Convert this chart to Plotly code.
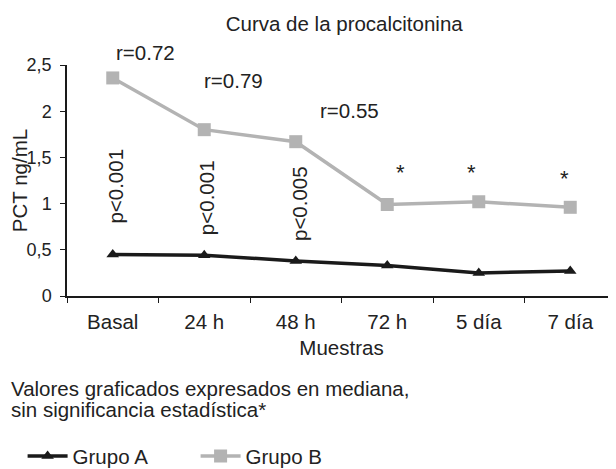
import plotly.graph_objects as go

categories = ["Basal", "24 h", "48 h", "72 h", "5 día", "7 día"]
grupo_a = [0.45, 0.44, 0.38, 0.33, 0.25, 0.27]
grupo_b = [2.36, 1.80, 1.67, 0.99, 1.02, 0.96]

r_labels = ["r=0.72", "r=0.79", "r=0.55"]
r_x = [0.36, 1.32, 2.59]
r_y = [2.63, 2.33, 2.01]

p_labels = ["p<0.001", "p<0.001", "p<0.005"]
p_x = [0.02, 1.02, 2.04]
p_y = [1.19, 1.06, 1.00]

star_x = [3.14, 3.92, 4.94]
star_y = [1.34, 1.34, 1.27]

Y_MAX = 2.5
FONT = "Liberation Sans, Arial, sans-serif"
TXT = "#222222"
FS = 20.5

fig = go.Figure()
fig.add_trace(go.Scatter(
    x=categories, y=grupo_a, name="Grupo A", mode="lines+markers",
    line=dict(color="#1a1a1a", width=3.5),
    marker=dict(symbol="triangle-up", size=11, color="#1a1a1a"),
))
fig.add_trace(go.Scatter(
    x=categories, y=grupo_b, name="Grupo B", mode="lines+markers",
    line=dict(color="#b3b3b3", width=3.5),
    marker=dict(symbol="square", size=13, color="#b3b3b3"),
))

ann = []
for t, x, y in zip(r_labels, r_x, r_y):
    ann.append(dict(x=x, y=y / Y_MAX, xref="x", yref="paper", text=t, showarrow=False,
                    xanchor="center", yanchor="middle",
                    font=dict(size=FS, color=TXT, family=FONT)))
for t, x, y in zip(p_labels, p_x, p_y):
    ann.append(dict(x=x, y=y / Y_MAX, xref="x", yref="paper", text=t, showarrow=False,
                    xanchor="center", yanchor="middle",
                    textangle=-90, font=dict(size=FS, color=TXT, family=FONT)))
for x, y in zip(star_x, star_y):
    ann.append(dict(x=x, y=y / Y_MAX, xref="x", yref="paper", text="*", showarrow=False,
                    xanchor="center", yanchor="middle",
                    font=dict(size=22, color=TXT, family=FONT)))
ann.append(dict(x=-0.105, y=-0.400, xref="paper", yref="paper", xanchor="left",
                yanchor="middle", showarrow=False,
                text="Valores graficados expresados en mediana,",
                font=dict(size=FS, color=TXT, family=FONT)))
ann.append(dict(x=-0.105, y=-0.490, xref="paper", yref="paper", xanchor="left",
                yanchor="middle", showarrow=False,
                text="sin significancia estadística*",
                font=dict(size=FS, color=TXT, family=FONT)))

fig.update_layout(
    width=608, height=461,
    margin=dict(l=59, r=0, t=57, b=173, autoexpand=False),
    paper_bgcolor="white", plot_bgcolor="white",
    separators=",.",
    font=dict(family=FONT, size=FS, color=TXT),
    title=dict(text="Curva de la procalcitonina", x=0.553, xanchor="center",
               y=0.966, yanchor="middle", font=dict(size=FS, color=TXT, family=FONT)),
    showlegend=True,
    legend=dict(orientation="h", xref="container", yref="container",
                x=0.024, xanchor="left", y=0.028, yanchor="middle",
                font=dict(size=FS, color=TXT, family=FONT), entrywidth=118,
                itemwidth=40, bgcolor="rgba(0,0,0,0)"),
    annotations=ann,
)
fig.update_xaxes(
    type="category", range=[-0.5, 5.5], tickson="boundaries", automargin=False,
    showline=True, linecolor="#1a1a1a", linewidth=1.5,
    ticks="outside", ticklen=5, tickcolor="#1a1a1a", ticklabelstandoff=7,
    showgrid=False, zeroline=False,
    title=dict(text="Muestras", standoff=8, font=dict(size=FS, color=TXT)),
    tickfont=dict(size=FS, color=TXT),
)
fig.update_yaxes(
    range=[0, Y_MAX], dtick=0.5, automargin=False,
    showline=True, linecolor="#1a1a1a", linewidth=1.5,
    ticks="outside", ticklen=5, tickcolor="#1a1a1a", ticklabelstandoff=5,
    showgrid=False, zeroline=False,
    title=dict(text="PCT ng/mL", standoff=6, font=dict(size=FS, color=TXT)),
    tickfont=dict(size=18, color=TXT),
)

fig.write_html("out.html")
